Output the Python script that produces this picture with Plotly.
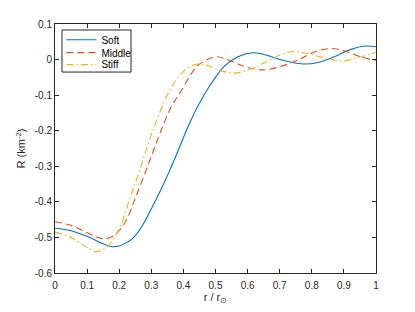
import plotly.graph_objects as go

soft_x = [0, 0.05, 0.1, 0.15, 0.177, 0.2, 0.22, 0.244, 0.27, 0.296, 0.332, 0.36, 0.38, 0.41, 0.44, 0.474, 0.5, 0.524, 0.57, 0.618, 0.66, 0.7, 0.773, 0.82, 0.87, 0.92, 0.966, 1]
soft_y = [-0.474, -0.481, -0.497, -0.518, -0.526, -0.524, -0.516, -0.501, -0.47, -0.427, -0.362, -0.306, -0.264, -0.198, -0.14, -0.085, -0.05, -0.022, 0.008, 0.019, 0.012, 0.0, -0.0125, -0.008, 0.008, 0.028, 0.038, 0.036]

mid_x = [0, 0.05, 0.1, 0.15, 0.175, 0.196, 0.225, 0.25, 0.28, 0.305, 0.332, 0.36, 0.395, 0.441, 0.47, 0.504, 0.55, 0.6, 0.648, 0.7, 0.76, 0.81, 0.857, 0.9, 0.95, 1]
mid_y = [-0.456, -0.466, -0.487, -0.504, -0.499, -0.485, -0.446, -0.39, -0.32, -0.26, -0.196, -0.137, -0.085, -0.02, -0.002, 0.008, -0.005, -0.022, -0.029, -0.02, 0.0, 0.022, 0.031, 0.025, 0.008, -0.002]

stiff_x = [0, 0.05, 0.1, 0.13, 0.165, 0.2, 0.213, 0.237, 0.262, 0.306, 0.358, 0.395, 0.42, 0.452, 0.48, 0.514, 0.561, 0.6, 0.65, 0.7, 0.737, 0.78, 0.84, 0.897, 0.95, 1]
stiff_y = [-0.485, -0.5, -0.528, -0.54, -0.524, -0.477, -0.446, -0.38, -0.316, -0.196, -0.085, -0.038, -0.02, -0.0125, -0.018, -0.031, -0.038, -0.03, -0.01, 0.013, 0.022, 0.018, 0.005, -0.004, 0.007, 0.02]

x_ticks = [0, 0.1, 0.2, 0.3, 0.4, 0.5, 0.6, 0.7, 0.8, 0.9, 1]
x_tick_labels = ["0", "0.1", "0.2", "0.3", "0.4", "0.5", "0.6", "0.7", "0.8", "0.9", "1"]
y_ticks = [0.1, 0, -0.1, -0.2, -0.3, -0.4, -0.5, -0.6]
y_tick_labels = ["0.1", "0", "-0.1", "-0.2", "-0.3", "-0.4", "-0.5", "-0.6"]

fig = go.Figure()
fig.add_trace(go.Scatter(x=soft_x, y=soft_y, name="Soft", mode="lines", legend="legend",
                         line=dict(color="#0072BD", width=1.1, shape="spline", smoothing=1)))
fig.add_trace(go.Scatter(x=mid_x, y=mid_y, name="Middle", mode="lines", legend="legend2",
                         line=dict(color="#D95319", width=1.1, dash="7px,4px", shape="spline", smoothing=1)))
fig.add_trace(go.Scatter(x=stiff_x, y=stiff_y, name="Stiff", mode="lines", legend="legend3",
                         line=dict(color="#EDB120", width=1.1, dash="7px,3px,1.5px,3px", shape="spline", smoothing=1)))

axis_common = dict(showline=True, linecolor="#262626", linewidth=1, mirror="ticks",
                   ticks="inside", ticklen=4, tickcolor="#262626", showgrid=False, zeroline=False,
                   tickfont=dict(family="Liberation Sans, Arial", size=10, color="#262626"))

leg_common = dict(xanchor="left", yanchor="middle", x=0.02, bgcolor="rgba(0,0,0,0)",
                  borderwidth=0, font=dict(size=10, color="#000000"), itemwidth=30)

fig.update_layout(
    width=415, height=312,
    margin=dict(l=55, r=39, t=24, b=36),
    paper_bgcolor="white", plot_bgcolor="white",
    font=dict(family="Liberation Sans, Arial", size=10, color="#262626"),
    xaxis=dict(range=[0, 1], tickvals=x_ticks, ticktext=x_tick_labels, ticklabelstandoff=3,
               title=dict(text="r / r<sub>⊙</sub>", standoff=1, font=dict(size=11)), **axis_common),
    yaxis=dict(range=[-0.6, 0.1], tickvals=y_ticks, ticktext=y_tick_labels,
               title=dict(text="R (km<sup>-2</sup>)", standoff=6, font=dict(size=11)), **axis_common),
    legend=dict(y=0.9365, **leg_common),
    legend2=dict(y=0.885, **leg_common),
    legend3=dict(y=0.837, **leg_common),
    shapes=[dict(type="rect", xref="paper", yref="paper", x0=0.0218, x1=0.2368, y0=0.807, y1=0.976,
                 line=dict(color="#262626", width=1), fillcolor="white", layer="below")],
    showlegend=True,
)

fig.write_html("out.html", config={"displayModeBar": False},
               post_script="document.body.style.margin='0';")
